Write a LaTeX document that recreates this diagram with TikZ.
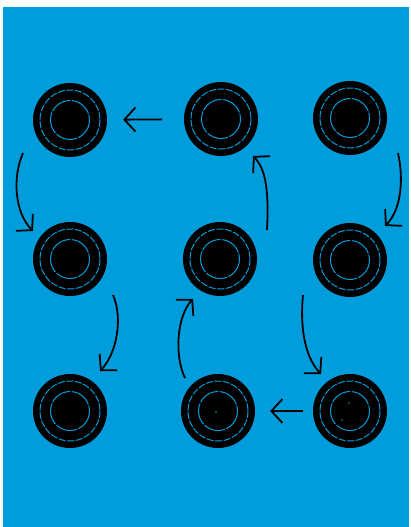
\documentclass[tikz,border=0pt]{standalone}
\usetikzlibrary{arrows.meta}
\definecolor{bgblue}{RGB}{0,157,221}
\begin{document}
\begin{tikzpicture}[x=1pt,y=-1pt,
  disk/.style={circle,fill=black,minimum size=74pt,inner sep=0pt},
  outring/.style={draw=bgblue,line width=1pt,dash pattern=on 7pt off 1.6pt},
  inring/.style={draw=bgblue,line width=1pt,dash pattern=on 22pt off 1.4pt},
  arr/.style={draw=black,line width=1.8pt,-{Straight Barb[length=11pt,width=24pt,line width=1.8pt]}},
  speck/.style={fill=bgblue,circle,inner sep=0pt,minimum size=1.8pt}]
\useasboundingbox (0,0) rectangle (410,527);
\fill[white] (0,0) rectangle (410,527);
\fill[bgblue] (3,7) rectangle (409,527);
% discs
\node[disk] (a1) at (70,120) {};
\node[disk] (b1) at (221,119) {};
\node[disk] (c1) at (350,118) {};
\node[disk] (a2) at (70,259) {};
\node[disk] (b2) at (220,259) {};
\node[disk] (c2) at (350,260) {};
\node[disk] (a3) at (70,411) {};
\node[disk] (b3) at (218,411) {};
\node[disk] (c3) at (350,411) {};
\foreach \n in {a1,b1,c1,a2,b2,c2,a3,b3,c3}{
  \draw[outring] (\n.center) circle (30);
  \draw[inring] (\n.center) circle (19.5);
}
\node[speck] (d1) at (216,412) {};
\node[speck] (d2) at (349,403) {};
\node[speck] (d3) at (342,420) {};
% straight arrows
\draw[arr,shorten <=22pt,shorten >=16pt] (b1) -- (a1);
\draw[arr,shorten <=10pt,shorten >=15pt] (c3) -- (b3);
% curved arrows
\coordinate (s1) at (23,153);  \coordinate (e1) at (33,231);
\coordinate (s2) at (267,230); \coordinate (e2) at (253,156);
\coordinate (s3) at (398,153); \coordinate (e3) at (385,226);
\coordinate (s4) at (113,295); \coordinate (e4) at (100,371);
\coordinate (s5) at (185,378); \coordinate (e5) at (193,299);
\coordinate (s6) at (303,295); \coordinate (e6) at (321,374);
\draw[arr] (s1) .. controls (12,178) and (15,213) .. (e1);
\draw[arr] (s2) .. controls (269,192) and (266,169) .. (e2);
\draw[arr] (s3) .. controls (404,180) and (401,210) .. (e3);
\draw[arr] (s4) .. controls (123,318) and (117,353) .. (e4);
\draw[arr] (s5) .. controls (174,355) and (177,316) .. (e5);
\draw[arr] (s6) .. controls (300,325) and (304,356) .. (e6);
\end{tikzpicture}
\end{document}
